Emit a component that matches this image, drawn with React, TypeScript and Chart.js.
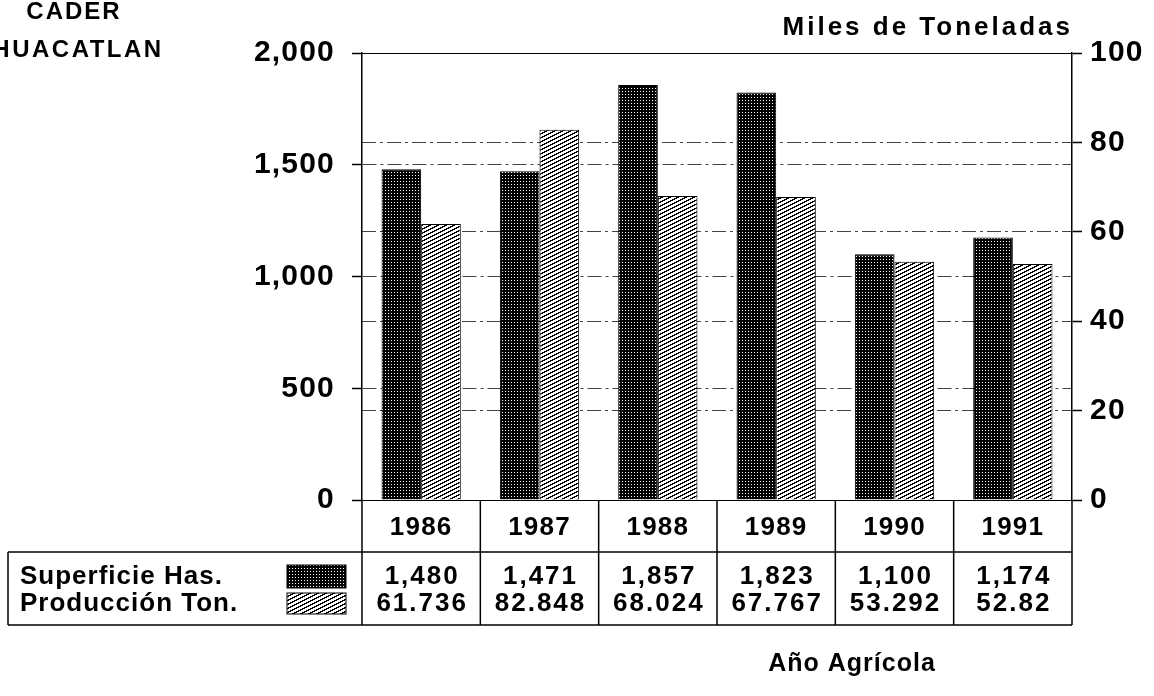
import React, { useEffect, useRef } from 'react';
import { Chart, registerables } from 'chart.js';

Chart.register(...registerables);

const years = ['1986', '1987', '1988', '1989', '1990', '1991'];
const superficie = [1480, 1471, 1857, 1823, 1100, 1174];
const produccion = [61.736, 82.848, 68.024, 67.767, 53.292, 52.82];
const superficieText = ['1,480', '1,471', '1,857', '1,823', '1,100', '1,174'];
const produccionText = ['61.736', '82.848', '68.024', '67.767', '53.292', '52.82'];
const rowLabels = ['Superficie Has.', 'Producción Ton.'];
const leftMax = 2000;
const leftStep = 500;
const rightMax = 100;
const rightStep = 20;

const FONT = "'Liberation Sans', Arial, Helvetica, sans-serif";

function makeDark(): CanvasPattern | string {
  const c = document.createElement('canvas');
  c.width = 3;
  c.height = 3;
  const g = c.getContext('2d');
  if (!g) return '#222';
  g.fillStyle = '#000';
  g.fillRect(0, 0, 3, 3);
  g.fillStyle = '#fff';
  g.fillRect(1, 1, 1, 1);
  return g.createPattern(c, 'repeat') || '#222';
}

function makeHatch(): CanvasPattern | string {
  const c = document.createElement('canvas');
  c.width = 8;
  c.height = 4;
  const g = c.getContext('2d');
  if (!g) return '#999';
  g.fillStyle = '#fff';
  g.fillRect(0, 0, 8, 4);
  g.fillStyle = '#000';
  for (let y = 0; y < 4; y++) {
    const start = 6 - 2 * y;
    for (let k = 0; k < 3; k++) {
      const x = (((start + k) % 8) + 8) % 8;
      g.fillRect(x, y, 1, 1);
    }
  }
  return g.createPattern(c, 'repeat') || '#999';
}

const gridDash = (ctx: any, max: number) => {
  if (!ctx || !ctx.tick) return [];
  const v = ctx.tick.value;
  return v === 0 || v === max ? [] : [14, 4, 3, 4];
};

const gridColor = (ctx: any, max: number) => {
  if (!ctx || !ctx.tick) return '#000';
  const v = ctx.tick.value;
  return v === 0 || v === max ? '#000' : '#444';
};

export default function App() {
  const ref = useRef<HTMLCanvasElement | null>(null);

  useEffect(() => {
    const canvas = ref.current;
    if (!canvas) return;
    document.body.style.margin = '0';
    const dark = makeDark();
    const hatch = makeHatch();

    const spacingPlugin = {
      id: 'spacing',
      beforeLayout(chart: any) {
        chart.ctx.letterSpacing = '1.2px';
      },
      beforeDraw(chart: any) {
        chart.ctx.letterSpacing = '1.2px';
      },
    };

    const tablePlugin = {
      id: 'table',
      afterDraw(chart: any) {
        const ctx = chart.ctx as CanvasRenderingContext2D;
        const xs = chart.scales.x;
        const area = chart.chartArea;
        const n = years.length;
        const left = xs.left;
        const right = xs.right;
        const w = (right - left) / n;
        const yTop = area.bottom;
        const yMid = 552;
        const yBot = 625;
        const tableLeft = 8;
        ctx.save();
        ctx.strokeStyle = '#000';
        ctx.lineWidth = 1.5;
        ctx.setLineDash([]);
        ctx.beginPath();
        for (let i = 0; i <= n; i++) {
          const x = left + i * w;
          ctx.moveTo(x, yTop);
          ctx.lineTo(x, yBot);
        }
        ctx.moveTo(tableLeft, yMid);
        ctx.lineTo(right, yMid);
        ctx.moveTo(tableLeft, yBot);
        ctx.lineTo(right, yBot);
        ctx.moveTo(tableLeft, yMid);
        ctx.lineTo(tableLeft, yBot);
        ctx.stroke();

        // legend swatches
        const sw = [
          { fill: dark, y: 565, h: 23 },
          { fill: hatch, y: 593, h: 21 },
        ];
        sw.forEach((s) => {
          ctx.fillStyle = s.fill as any;
          ctx.fillRect(287, s.y, 59, s.h);
          ctx.lineWidth = 1;
          ctx.strokeRect(287, s.y, 59, s.h);
        });

        ctx.fillStyle = '#000';
        ctx.textBaseline = 'middle';
        const rowY = [577, 604];
        ctx.font = `bold 26px ${FONT}`;
        ctx.letterSpacing = '1px';
        ctx.textAlign = 'left';
        ctx.fillText(rowLabels[0], 20, rowY[0]);
        ctx.fillText(rowLabels[1], 20, rowY[1]);
        ctx.letterSpacing = '2px';
        ctx.textAlign = 'center';
        for (let i = 0; i < n; i++) {
          const cx = xs.getPixelForValue(i) + 1;
          ctx.fillText(superficieText[i], cx, rowY[0]);
          ctx.fillText(produccionText[i], cx, rowY[1]);
        }

        // titles
        ctx.font = `bold 24px ${FONT}`;
        ctx.letterSpacing = '2px';
        ctx.textAlign = 'center';
        ctx.fillText('CADER', 74, 12);
        ctx.letterSpacing = '2.5px';
        ctx.fillText('HUACATLAN', 78, 50);
        ctx.font = `bold 26px ${FONT}`;
        ctx.letterSpacing = '3px';
        ctx.textAlign = 'right';
        ctx.fillText('Miles de Toneladas', 1073, 28);
        ctx.font = `bold 25px ${FONT}`;
        ctx.letterSpacing = '1px';
        ctx.textAlign = 'center';
        ctx.fillText('Año Agrícola', 852, 664);
        ctx.restore();
      },
    };

    const tickFont = { family: FONT, size: 30, weight: 'bold' as const };

    const chart = new Chart(canvas, {
      type: 'bar',
      data: {
        labels: years,
        datasets: [
          {
            label: rowLabels[0],
            data: superficie,
            yAxisID: 'yL',
            backgroundColor: dark as any,
            borderColor: '#000',
            borderWidth: 1,
            categoryPercentage: 0.67,
            barPercentage: 1,
          },
          {
            label: rowLabels[1],
            data: produccion,
            yAxisID: 'yR',
            backgroundColor: hatch as any,
            borderColor: '#000',
            borderWidth: 1,
            categoryPercentage: 0.67,
            barPercentage: 1,
          },
        ],
      },
      options: {
        responsive: false,
        animation: false,
        events: [],
        layout: { padding: { left: 0, right: 0, top: 53, bottom: 144 } },
        plugins: {
          legend: { display: false },
          tooltip: { enabled: false },
          title: { display: false },
        },
        scales: {
          x: {
            position: 'bottom',
            grid: { display: false },
            border: { display: false },
            ticks: {
              color: '#000',
              font: { family: FONT, size: 26, weight: 'bold' },
              padding: 4,
              maxRotation: 0,
              autoSkip: false,
            },
            afterFit: (s: any) => {
              s.height = 52;
            },
          },
          yL: {
            position: 'left',
            min: 0,
            max: leftMax,
            ticks: {
              stepSize: leftStep,
              color: '#000',
              font: tickFont,
              padding: 17,
              callback: (v: any) => Number(v).toLocaleString('en-US'),
            },
            grid: {
              color: (ctx: any) => gridColor(ctx, leftMax),
              lineWidth: 1,
              tickLength: 10,
              tickColor: '#000',
              tickWidth: 1.5,
            },
            border: {
              display: true,
              color: '#000',
              width: 1.5,
              dash: (ctx: any) => gridDash(ctx, leftMax),
            },
            afterFit: (s: any) => {
              s.width = 362;
            },
          },
          yR: {
            position: 'right',
            min: 0,
            max: rightMax,
            ticks: {
              stepSize: rightStep,
              color: '#000',
              font: tickFont,
              padding: 8,
            },
            grid: {
              color: (ctx: any) => gridColor(ctx, rightMax),
              lineWidth: 1,
              tickLength: 10,
              tickColor: '#000',
              tickWidth: 1.5,
            },
            border: {
              display: true,
              color: '#000',
              width: 1.5,
              dash: (ctx: any) => gridDash(ctx, rightMax),
            },
            afterFit: (s: any) => {
              s.width = 82;
            },
          },
        },
      },
      plugins: [spacingPlugin, tablePlugin],
    });

    return () => {
      chart.destroy();
    };
  }, []);

  return (
    <div style={{ position: 'absolute', left: 0, top: 0, width: 1154, height: 696, background: '#fff' }}>
      <canvas ref={ref} width={1154} height={696} style={{ display: 'block' }} />
    </div>
  );
}
